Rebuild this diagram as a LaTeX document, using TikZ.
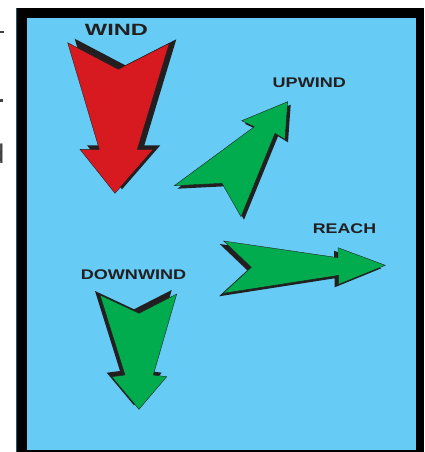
\documentclass[tikz,border=0pt]{standalone}
\usepackage{fontspec}
\setmainfont{Liberation Sans}
\definecolor{sky}{HTML}{66CCF5}
\definecolor{windred}{HTML}{D71920}
\definecolor{sailgreen}{HTML}{00AC4E}
\definecolor{shade}{HTML}{231F20}
\definecolor{rim}{HTML}{1E5B73}
\tikzset{
  shadowfill/.style={fill=shade},
  redarrow/.style={fill=windred, draw=shade, line width=0.4pt, line join=miter},
  greenarrow/.style={fill=sailgreen, draw=shade, line width=0.4pt, line join=miter},
  lbl/.style={anchor=base, text=shade, inner sep=0pt, font=\bfseries\fontsize{14}{14}\selectfont},
  bigl/.style={anchor=base, text=shade, inner sep=0pt, font=\bfseries\fontsize{16.3}{16}\selectfont},
  frag/.style={fill=shade!85!white}
}
\begin{document}
\begin{tikzpicture}[x=1pt,y=-1pt]
\useasboundingbox (0,0) rectangle (424,452);
% frame
\fill[black] (16,8) rectangle (424,452);
\draw[rim, line width=1pt] (16.5,8) -- (16.5,452);
\fill[sky] (27,18) rectangle (416,449.5);
% left fragments of cropped text
\fill[frag] (0,31) rectangle (4,33);
\fill[frag] (0,99) rectangle (3,101.5);
\node[anchor=base east, inner sep=0pt, text=shade!85!white, font=\fontsize{27}{27}\selectfont] (fragd) at (4.6,163) {d};
% WIND arrow (red)
\fill[shadowfill, shift={(7,-4)}] (67.7,42.7) -- (118.3,69.3) -- (169.3,43.3) -- (137.3,149.3) -- (153.3,149.3) -- (115,193.3) -- (80,149.3) -- (99.3,149.3) -- cycle;
\filldraw[redarrow] (67.7,42.7) -- (118.3,69.3) -- (169.3,43.3) -- (137.3,149.3) -- (153.3,149.3) -- (115,193.3) -- (80,149.3) -- (99.3,149.3) -- cycle;
% UPWIND arrow
\fill[shadowfill, shift={(3,3)}] (174.3,185.7) -- (222,183.3) -- (241,216.7) -- (275,133.3) -- (285,139.3) -- (287.7,101.7) -- (241.7,120.7) -- (254.3,126.7) -- cycle;
\filldraw[greenarrow] (174.3,185.7) -- (222,183.3) -- (241,216.7) -- (275,133.3) -- (285,139.3) -- (287.7,101.7) -- (241.7,120.7) -- (254.3,126.7) -- cycle;
% REACH arrow
\fill[shadowfill, shift={(-4,3)}] (223.7,241) -- (251.3,267.3) -- (223,293.3) -- (338.7,275.3) -- (338.7,284.3) -- (385.3,265.3) -- (338,247.7) -- (338,257.7) -- cycle;
\filldraw[greenarrow] (223.7,241) -- (251.3,267.3) -- (223,293.3) -- (338.7,275.3) -- (338.7,284.3) -- (385.3,265.3) -- (338,247.7) -- (338,257.7) -- cycle;
% DOWNWIND arrow
\fill[shadowfill, shift={(-5,-4)}] (100,295) -- (139,313.3) -- (176.7,294) -- (153.3,375) -- (166.7,376.7) -- (139,409.3) -- (111.7,376.7) -- (125,375) -- cycle;
\filldraw[greenarrow] (100,295) -- (139,313.3) -- (176.7,294) -- (153.3,375) -- (166.7,376.7) -- (139,409.3) -- (111.7,376.7) -- (125,375) -- cycle;
% labels
\node[bigl] (wind) at (116.5,35.3) {\scalebox{1.45}[1]{WIND}};
\node[lbl] (upwind) at (309.3,87.3) {\scalebox{1.29}[1]{UPWIND}};
\node[lbl] (reach) at (344.5,233) {\scalebox{1.27}[1]{REACH}};
\node[lbl] (downwind) at (133.5,279.3) {\scalebox{1.29}[1]{DOWNWIND}};
\end{tikzpicture}
\end{document}
